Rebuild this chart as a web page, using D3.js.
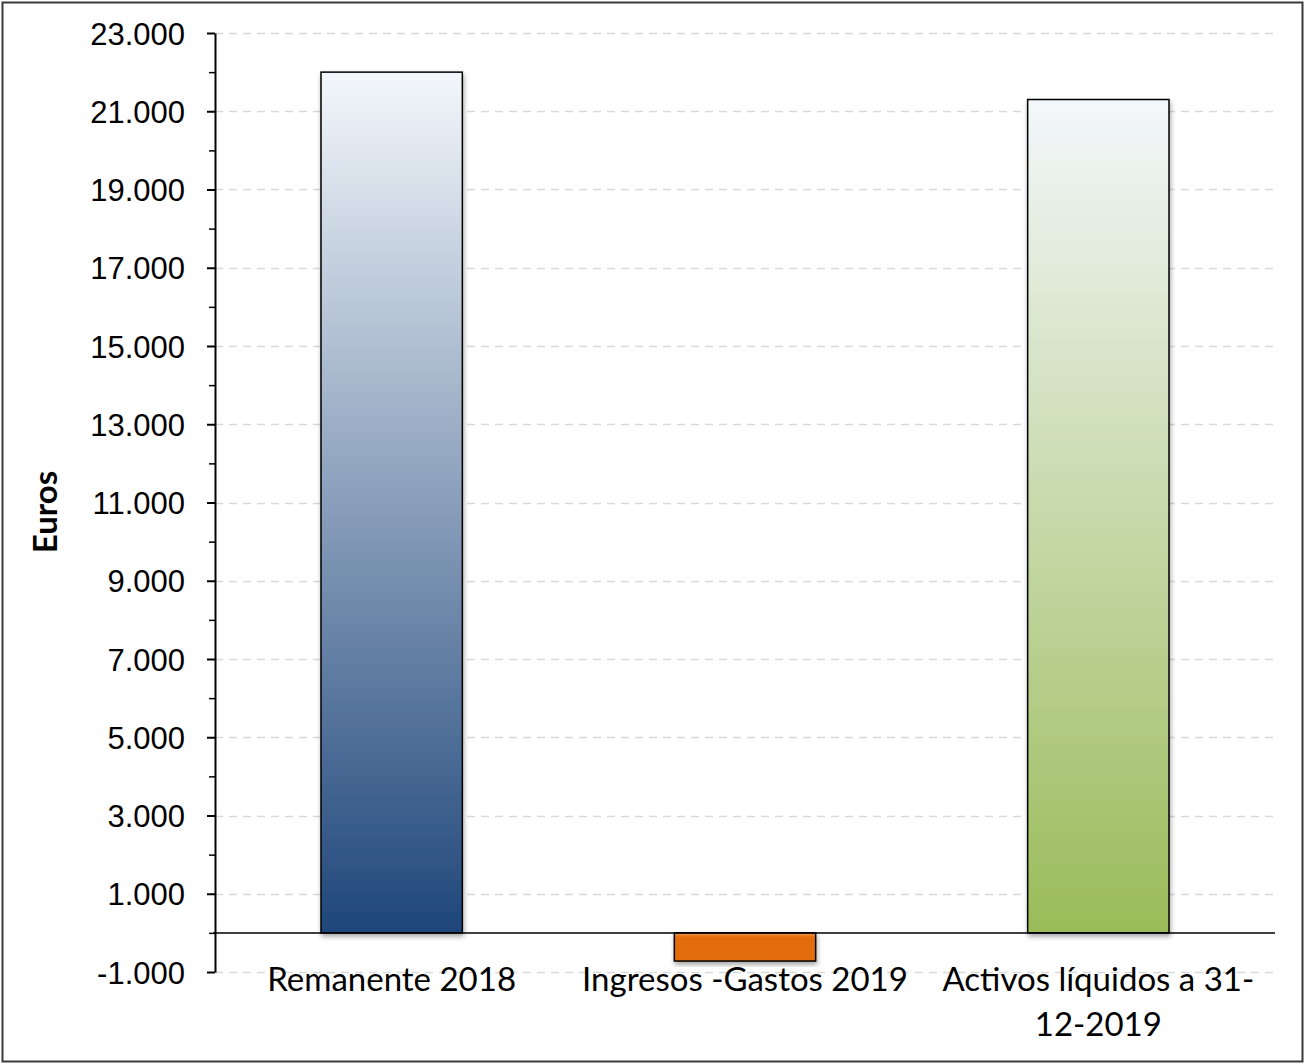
<!DOCTYPE html>
<html>
<head>
<meta charset="utf-8">
<script src="https://cdn.jsdelivr.net/npm/d3@7/dist/d3.min.js"></script>
<style>
  html, body { margin: 0; padding: 0; background: #fff; }
  svg { display: block; }
</style>
</head>
<body>
<svg id="chart" width="1305" height="1064"></svg>
<script>
// Balance 2018–2019 (euros)
const categories = ["Remanente 2018", "Ingresos -Gastos 2019", "Activos líquidos a 31-12-2019"];
const values = [22000, -720, 21300];
const yTickValues = [-1000, 1000, 3000, 5000, 7000, 9000, 11000, 13000, 15000, 17000, 19000, 21000, 23000];
const yMinorValues = [0, 2000, 4000, 6000, 8000, 10000, 12000, 14000, 16000, 18000, 20000, 22000];
const yTitle = "Euros";

const svg = d3.select("#chart");
const W = 1305, H = 1064;
const plot = { left: 215, right: 1275, top: 33, bottom: 972 };

const es = d3.formatLocale({ decimal: ",", thousands: ".", grouping: [3], currency: ["", " €"], minus: "-" });
const fmt = es.format(",d");

const x = d3.scaleBand().domain(categories).range([plot.left, plot.right]).paddingInner(0.6).paddingOuter(0.3);
const y = d3.scaleLinear().domain([-1000, 23000]).range([plot.bottom, plot.top]);

// frame
svg.append("rect").attr("x", 2.5).attr("y", 2.5).attr("width", W - 5).attr("height", H - 5)
  .attr("fill", "#fff").attr("stroke", "#3a3a3a").attr("stroke-width", 2);

const defs = svg.append("defs");
const grads = [
  { id: "g0", top: "#f3f7fb", bottom: "#1f467a" },
  { id: "g1", top: "#f29a55", bottom: "#e36c0a", mid: "#e46c0a" },
  { id: "g2", top: "#f3f7fb", bottom: "#9bbb59" }
];
grads.forEach(g => {
  const lg = defs.append("linearGradient").attr("id", g.id).attr("x1", 0).attr("y1", 0).attr("x2", 0).attr("y2", 1);
  lg.append("stop").attr("offset", "0%").attr("stop-color", g.top);
  if (g.mid) lg.append("stop").attr("offset", "15%").attr("stop-color", g.mid);
  lg.append("stop").attr("offset", "100%").attr("stop-color", g.bottom);
});
const shadow = defs.append("filter").attr("id", "shadow").attr("x", "-10%").attr("y", "-10%").attr("width", "120%").attr("height", "130%");
shadow.append("feDropShadow").attr("dx", 1).attr("dy", 3).attr("stdDeviation", 2.5)
  .attr("flood-color", "#000").attr("flood-opacity", 0.35);

// gridlines
svg.append("g").selectAll("line").data(yTickValues).join("line")
  .attr("x1", plot.left).attr("x2", plot.right)
  .attr("y1", d => Math.round(y(d)) + 0.5).attr("y2", d => Math.round(y(d)) + 0.5)
  .attr("stroke", "#d9d9d9").attr("stroke-width", 1.5).attr("stroke-dasharray", "8,6");

// bars
svg.append("g").selectAll("rect").data(categories).join("rect")
  .attr("x", d => x(d))
  .attr("width", x.bandwidth())
  .attr("y", (d, i) => y(Math.max(0, values[i])))
  .attr("height", (d, i) => Math.abs(y(values[i]) - y(0)))
  .attr("fill", (d, i) => `url(#g${i})`)
  .attr("stroke", "#000").attr("stroke-width", 1.5)
  .attr("filter", "url(#shadow)");

// zero line
svg.append("line").attr("x1", plot.left - 2).attr("x2", plot.right)
  .attr("y1", y(0)).attr("y2", y(0)).attr("stroke", "#000").attr("stroke-width", 1.5);

// y axis
const yAxis = d3.axisLeft(y).tickValues(yTickValues).tickFormat(fmt).tickSize(8).tickSizeOuter(0);
const ya = svg.append("g").attr("transform", `translate(${plot.left},0)`).call(yAxis);
ya.attr("font-size", null).attr("font-family", null);
ya.select(".domain").attr("stroke", "#000").attr("stroke-width", 2);
ya.selectAll(".tick line").attr("stroke", "#000").attr("stroke-width", 2);
ya.selectAll(".tick text").attr("x", -30).attr("dy", "0.36em")
  .attr("font-family", "'Liberation Sans', Arial, sans-serif").attr("font-size", 31).attr("fill", "#000");
svg.append("g").attr("transform", `translate(${plot.left},0)`)
  .call(d3.axisLeft(y).tickValues(yMinorValues).tickFormat("").tickSize(6))
  .call(g => g.select(".domain").remove())
  .selectAll(".tick line").attr("stroke", "#000").attr("stroke-width", 1.5);

// category labels
const catG = svg.append("g");
categories.forEach(c => {
  const lines = c.length > 24 ? c.replace(/(31-)/, "$1\n").split("\n") : [c];
  const t = catG.append("text")
    .attr("text-anchor", "middle")
    .attr("font-family", "Lato, 'Open Sans', sans-serif")
    .attr("font-size", 33).attr("fill", "#000");
  lines.forEach((ln, k) => {
    t.append("tspan").attr("x", x(c) + x.bandwidth() / 2)
      .attr("y", 991 + k * 45).text(ln);
  });
});

// y title
svg.append("text")
  .attr("transform", `translate(57,512) rotate(-90)`)
  .attr("text-anchor", "middle")
  .attr("font-family", "Lato, 'Open Sans', sans-serif")
  .attr("font-weight", "bold").attr("font-size", 33).attr("fill", "#000")
  .text(yTitle);
</script>
</body>
</html>
